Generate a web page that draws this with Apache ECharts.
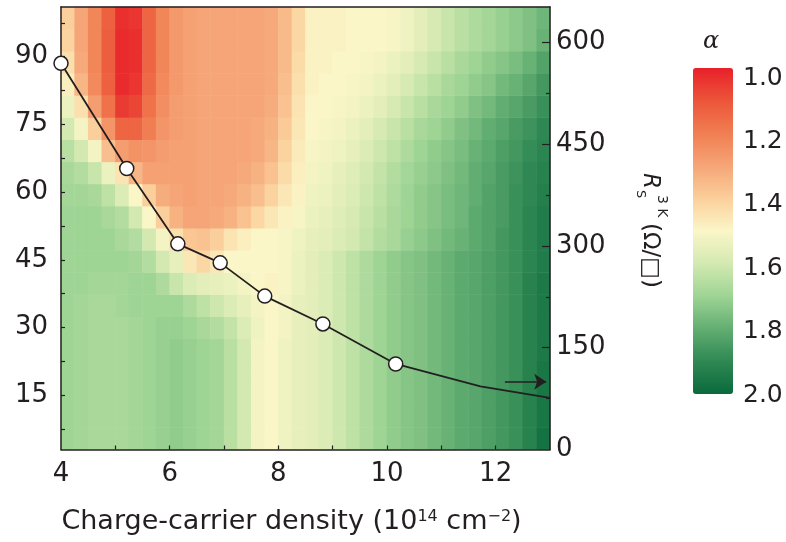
<!DOCTYPE html>
<html><head><meta charset="utf-8">
<script src="https://cdn.jsdelivr.net/npm/echarts@6/dist/echarts.min.js"></script>
<style>html,body{margin:0;padding:0;background:#fff}#c{width:786px;height:542px}</style>
</head><body><div id="c"></div>
<script>
// ---- data ----
// column centres: charge-carrier density (1e14 cm^-2), 0.25 steps from 4 to 13
const densityCols = [4.125,4.375,4.625,4.875,5.125,5.375,5.625,5.875,6.125,6.375,6.625,6.875,
  7.125,7.375,7.625,7.875,8.125,8.375,8.625,8.875,9.125,9.375,9.625,9.875,
  10.125,10.375,10.625,10.875,11.125,11.375,11.625,11.875,12.125,12.375,12.625,12.875];
// row centres: temperature (K), bottom to top
const tempRows = [5.45,10.35,15.25,20.15,25.05,29.95,34.85,39.75,44.65,49.55,
  54.45,59.35,64.25,69.15,74.05,78.95,83.85,88.75,93.65,98.55];
// alpha, one row per temperature band
const alpha_r00 = [1.70,1.69,1.68,1.68,1.68,1.69,1.70,1.71,1.72,1.71,1.70,1.69,1.65,1.60,1.52,1.50,1.53,1.55, 1.56,1.58,1.61,1.64,1.67,1.70,1.72,1.74,1.75,1.77,1.79,1.81,1.82,1.84,1.86,1.88,1.92,1.97];
const alpha_r01 = [1.70,1.69,1.68,1.68,1.68,1.69,1.70,1.71,1.72,1.71,1.70,1.69,1.65,1.60,1.52,1.50,1.53,1.55, 1.56,1.58,1.61,1.64,1.67,1.70,1.72,1.74,1.75,1.77,1.79,1.81,1.82,1.84,1.86,1.88,1.92,1.96];
const alpha_r02 = [1.70,1.69,1.68,1.68,1.68,1.69,1.70,1.71,1.72,1.71,1.70,1.69,1.65,1.60,1.52,1.50,1.53,1.55, 1.56,1.58,1.61,1.64,1.67,1.70,1.72,1.74,1.75,1.77,1.79,1.81,1.82,1.84,1.86,1.88,1.92,1.96];
const alpha_r03 = [1.70,1.69,1.68,1.68,1.68,1.69,1.70,1.71,1.72,1.71,1.70,1.69,1.65,1.60,1.52,1.50,1.53,1.55, 1.56,1.58,1.61,1.64,1.67,1.70,1.72,1.74,1.75,1.77,1.79,1.81,1.82,1.84,1.86,1.88,1.92,1.96];
const alpha_r04 = [1.70,1.69,1.68,1.68,1.68,1.69,1.70,1.71,1.72,1.71,1.70,1.69,1.65,1.60,1.52,1.50,1.53,1.55, 1.56,1.58,1.61,1.64,1.67,1.70,1.72,1.74,1.75,1.77,1.79,1.81,1.82,1.84,1.86,1.88,1.92,1.95];
const alpha_r05 = [1.70,1.69,1.68,1.68,1.68,1.69,1.70,1.71,1.71,1.70,1.68,1.66,1.63,1.58,1.53,1.50,1.52,1.55, 1.56,1.58,1.61,1.64,1.67,1.70,1.72,1.74,1.75,1.77,1.79,1.81,1.82,1.84,1.86,1.88,1.92,1.95];
const alpha_r06 = [1.70,1.69,1.68,1.68,1.69,1.70,1.70,1.70,1.70,1.67,1.64,1.61,1.58,1.55,1.52,1.50,1.52,1.55, 1.56,1.58,1.61,1.64,1.67,1.70,1.72,1.74,1.75,1.77,1.79,1.81,1.82,1.84,1.86,1.88,1.92,1.95];
const alpha_r07 = [1.70,1.70,1.69,1.69,1.69,1.70,1.70,1.67,1.62,1.58,1.56,1.55,1.54,1.52,1.50,1.49,1.51,1.54, 1.56,1.58,1.61,1.64,1.67,1.70,1.72,1.74,1.75,1.77,1.79,1.81,1.82,1.84,1.86,1.88,1.92,1.95];
const alpha_r08 = [1.70,1.70,1.70,1.70,1.70,1.69,1.66,1.60,1.55,1.46,1.42,1.46,1.50,1.50,1.50,1.50,1.51,1.54, 1.56,1.58,1.61,1.64,1.67,1.70,1.72,1.74,1.75,1.77,1.79,1.81,1.82,1.84,1.86,1.88,1.91,1.94];
const alpha_r09 = [1.70,1.70,1.70,1.70,1.68,1.66,1.60,1.52,1.44,1.38,1.37,1.40,1.45,1.48,1.50,1.50,1.51,1.53, 1.55,1.56,1.58,1.60,1.63,1.66,1.68,1.71,1.73,1.75,1.77,1.79,1.81,1.83,1.86,1.88,1.91,1.94];
const alpha_r10 = [1.70,1.70,1.70,1.68,1.66,1.60,1.50,1.40,1.33,1.30,1.30,1.31,1.33,1.37,1.42,1.46,1.49,1.51, 1.54,1.55,1.57,1.59,1.62,1.65,1.68,1.70,1.72,1.74,1.76,1.78,1.81,1.83,1.85,1.88,1.91,1.94];
const alpha_r11 = [1.69,1.69,1.68,1.64,1.58,1.50,1.40,1.32,1.30,1.29,1.30,1.30,1.31,1.33,1.36,1.41,1.46,1.49, 1.53,1.54,1.56,1.58,1.61,1.64,1.67,1.70,1.72,1.74,1.76,1.78,1.80,1.83,1.85,1.88,1.90,1.93];
const alpha_r12 = [1.68,1.66,1.62,1.54,1.45,1.34,1.29,1.29,1.29,1.29,1.30,1.30,1.30,1.31,1.33,1.37,1.43,1.48, 1.52,1.53,1.55,1.57,1.60,1.63,1.66,1.69,1.71,1.73,1.75,1.77,1.80,1.82,1.85,1.87,1.90,1.92];
const alpha_r13 = [1.65,1.60,1.52,1.36,1.28,1.25,1.26,1.28,1.29,1.29,1.30,1.30,1.30,1.30,1.31,1.34,1.41,1.47, 1.51,1.52,1.53,1.55,1.58,1.61,1.64,1.67,1.70,1.72,1.74,1.76,1.79,1.81,1.84,1.86,1.89,1.91];
const alpha_r14 = [1.60,1.52,1.40,1.26,1.14,1.14,1.20,1.26,1.28,1.29,1.30,1.30,1.30,1.30,1.31,1.33,1.39,1.46, 1.50,1.51,1.52,1.54,1.56,1.59,1.62,1.65,1.68,1.70,1.72,1.75,1.77,1.80,1.82,1.85,1.87,1.90];
const alpha_r15 = [1.54,1.44,1.28,1.17,1.05,1.07,1.17,1.24,1.28,1.29,1.30,1.30,1.30,1.30,1.30,1.32,1.37,1.45, 1.50,1.50,1.51,1.52,1.54,1.56,1.59,1.62,1.65,1.68,1.70,1.72,1.75,1.77,1.80,1.82,1.85,1.88];
const alpha_r16 = [1.48,1.34,1.23,1.13,1.02,1.04,1.15,1.23,1.27,1.29,1.30,1.30,1.30,1.30,1.30,1.31,1.36,1.44, 1.49,1.50,1.50,1.51,1.52,1.54,1.56,1.59,1.62,1.65,1.68,1.70,1.72,1.74,1.77,1.79,1.82,1.86];
const alpha_r17 = [1.44,1.31,1.22,1.12,1.02,1.03,1.14,1.22,1.27,1.29,1.30,1.30,1.30,1.30,1.30,1.31,1.35,1.43, 1.49,1.49,1.50,1.50,1.51,1.52,1.54,1.56,1.59,1.62,1.65,1.68,1.70,1.72,1.74,1.76,1.79,1.83];
const alpha_r18 = [1.41,1.30,1.22,1.12,1.02,1.03,1.14,1.22,1.27,1.29,1.30,1.30,1.30,1.30,1.30,1.31,1.35,1.42, 1.49,1.49,1.49,1.50,1.50,1.50,1.51,1.53,1.56,1.59,1.62,1.65,1.67,1.69,1.71,1.73,1.75,1.79];
const alpha_r19 = [1.40,1.30,1.22,1.13,1.03,1.04,1.14,1.22,1.27,1.29,1.30,1.30,1.30,1.30,1.30,1.31,1.35,1.42, 1.49,1.49,1.49,1.50,1.50,1.50,1.51,1.53,1.56,1.59,1.62,1.65,1.67,1.69,1.71,1.73,1.75,1.78];
const alphaRows = [alpha_r00,alpha_r01,alpha_r02,alpha_r03,alpha_r04,alpha_r05,alpha_r06,alpha_r07,alpha_r08,alpha_r09,
  alpha_r10,alpha_r11,alpha_r12,alpha_r13,alpha_r14,alpha_r15,alpha_r16,alpha_r17,alpha_r18,alpha_r19];

const lineDensity = [4.0, 5.21, 6.15, 6.93, 7.75, 8.82, 10.16, 11.72, 13.0];
const lineRs      = [569, 414, 303, 275, 226, 185, 126, 93, 76];
const lineMarked  = [true, true, true, true, true, true, true, false, false];

const xLabels = [4, 6, 8, 10, 12];
const xTicks = [5, 6, 7, 8, 9, 10, 11, 12];
const leftLabels = [15, 30, 45, 60, 75, 90];
const leftTicks = [7.5, 15, 22.5, 30, 37.5, 45, 52.5, 60, 67.5, 75, 82.5, 90, 97.5];
const rightLabels = [0, 150, 300, 450, 600];
const rightMajorTicks = [150, 300, 450, 600];
const rightMinorTicks = [75, 225, 375, 525];
const alphaLabels = [1.0, 1.2, 1.4, 1.6, 1.8, 2.0];
const arrowRs = 100, arrowFrom = 12.17, arrowTo = 12.93;

const colorStops = ['#e8202a','#ec553a','#f07e52','#f5a577','#fbcf9b','#fbf6c8','#d3e9b1','#9ed494','#62ae72','#2f8853','#0a6a3c'];

// ---- build ----
const heatData = [];
alphaRows.forEach((row, j) => row.forEach((v, i) => heatData.push([i, j, v])));

const INK = '#231f20';
const FONT = 'DejaVu Sans';
const lab = {color: INK, fontSize: 26, fontFamily: FONT};

const chart = echarts.init(document.getElementById('c'), null, {renderer: 'canvas'});
chart.setOption({
  animation: false,
  backgroundColor: '#fff',
  grid: [
    {left: 61, top: 7, width: 489, height: 442.5, containLabel: false},
    {left: 732, top: 78, width: 1, height: 317, containLabel: false}
  ],
  xAxis: [
    {type: 'value', gridIndex: 0, min: 4, max: 13, position: 'bottom', z: 5,
     axisLine: {lineStyle: {color: INK, width: 1.5}},
     axisTick: {show: true, inside: true, length: 4, customValues: xTicks, lineStyle: {color: INK, width: 1.2}},
     axisLabel: Object.assign({customValues: xLabels, margin: 12}, lab),
     splitLine: {show: false},
     name: 'Charge-carrier density (10{sup|14} cm{sup|\u22122})',
     nameLocation: 'middle', nameGap: 59,
     nameTextStyle: {color: INK, fontSize: 27, fontFamily: FONT, padding: [0, 28, 0, 0],
       rich: {sup: {fontSize: 16, fontFamily: FONT, color: INK, verticalAlign: 'top'}}}},
    {type: 'category', gridIndex: 0, data: densityCols.map(String), show: false},
    {type: 'value', gridIndex: 1, min: 0, max: 1, show: false},
    {type: 'value', gridIndex: 0, min: 4, max: 13, position: 'top', z: 5,
     axisLine: {lineStyle: {color: INK, width: 1.5}}, axisTick: {show: false},
     axisLabel: {show: false}, splitLine: {show: false}}
  ],
  yAxis: [
    {type: 'value', gridIndex: 0, min: 3, max: 101, position: 'left', z: 5,
     axisLine: {show: true, lineStyle: {color: INK, width: 1.5}},
     axisTick: {show: true, inside: true, length: 4, customValues: leftTicks, lineStyle: {color: INK, width: 1.2}},
     axisLabel: Object.assign({customValues: leftLabels, margin: 13}, lab),
     splitLine: {show: false}},
    {type: 'value', gridIndex: 0, min: 0, max: 652, position: 'right', z: 5,
     axisLine: {show: true, lineStyle: {color: INK, width: 1.5}},
     axisTick: {show: true, inside: true, length: 8, customValues: rightMajorTicks, lineStyle: {color: INK, width: 1.2}},
     axisLabel: Object.assign({customValues: rightLabels, margin: 6}, lab),
     splitLine: {show: false}},
    {type: 'category', gridIndex: 0, data: tempRows.map(String), show: false},
    {type: 'value', gridIndex: 1, min: 1, max: 2, inverse: true, position: 'right',
     axisLine: {show: false}, axisTick: {show: false}, splitLine: {show: false},
     axisLabel: Object.assign({customValues: alphaLabels, margin: 10,
       formatter: v => Number(v).toFixed(1)}, lab, {fontSize: 25})},
    {type: 'value', gridIndex: 0, min: 0, max: 652, position: 'right', z: 5,
     axisLine: {show: false},
     axisTick: {show: true, inside: true, length: 4, customValues: rightMinorTicks, lineStyle: {color: INK, width: 1.2}},
     axisLabel: {show: false}, splitLine: {show: false}}
  ],
  visualMap: {
    type: 'continuous', min: 1, max: 2, inverse: true, seriesIndex: 0,
    calculable: false, orient: 'vertical', left: 693, top: 68, padding: 0,
    itemWidth: 40, itemHeight: 326, text: null, showLabel: false,
    inRange: {color: colorStops}
  },
  series: [
    {type: 'heatmap', xAxisIndex: 1, yAxisIndex: 2, data: heatData,
     itemStyle: {borderWidth: 0}, emphasis: {disabled: true}, progressive: 0},
    {type: 'line', xAxisIndex: 0, yAxisIndex: 1, z: 10, clip: false,
     data: lineDensity.map((x, i) => ({value: [x, lineRs[i]], symbol: lineMarked[i] ? 'circle' : 'none'})),
     symbolSize: 14,
     itemStyle: {color: '#ffffff', borderColor: INK, borderWidth: 1.5},
     lineStyle: {color: INK, width: 1.8},
     markLine: {silent: true, symbol: ['none', 'arrow'], symbolSize: 12,
       lineStyle: {color: INK, width: 1.5, type: 'solid'}, label: {show: false},
       data: [[{coord: [arrowFrom, arrowRs]}, {coord: [arrowTo, arrowRs]}]]}}
  ],
  graphic: [
    {type: 'text', left: 703, top: 30,
     style: {text: '\u03b1', fontSize: 24, fontStyle: 'italic', fontFamily: 'DejaVu Serif', fill: INK}},
    {type: 'group', x: 650, y: 173, rotation: -Math.PI / 2, children: [
      {type: 'text', x: 0, y: 0, style: {text: 'R', fontSize: 23, fontStyle: 'italic', fontFamily: FONT, fill: INK,
        align: 'left', verticalAlign: 'middle', textAlign: 'left', textVerticalAlign: 'middle'}},
      {type: 'text', x: 17, y: 10, style: {text: 'S', fontSize: 13, fontFamily: FONT, fill: INK,
        align: 'left', verticalAlign: 'middle', textAlign: 'left', textVerticalAlign: 'middle'}},
      {type: 'text', x: 22, y: -12, style: {text: '3 K', fontSize: 14, fontFamily: FONT, fill: INK,
        align: 'left', verticalAlign: 'middle', textAlign: 'left', textVerticalAlign: 'middle'}},
      {type: 'text', x: 50, y: 0, style: {text: '(\u03a9/\u25a1)', fontSize: 23, fontFamily: FONT, fill: INK,
        align: 'left', verticalAlign: 'middle', textAlign: 'left', textVerticalAlign: 'middle'}}
    ]}
  ]
});
</script></body></html>
